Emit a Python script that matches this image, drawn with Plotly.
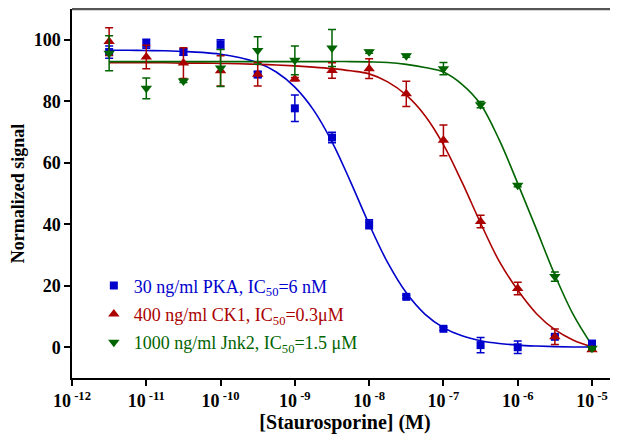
import plotly.graph_objects as go

# concentrations (log10 M) of the measured points
log_conc = [-11.5, -11.0, -10.5, -10.0, -9.5, -9.0, -8.5, -8.0,
            -7.5, -7.0, -6.5, -6.0, -5.5, -5.0]

pka_mean = [96.0, 98.7, 96.0, 98.5, 88.7, 77.7, 68.2, 40.0, 16.4, 6.0, 0.7, 0.0, 3.4, 1.2]
pka_err = [2.0, 1.5, 1.0, 1.5, 1.0, 4.3, 1.7, 1.5, 0.5, 0.5, 2.5, 2.0, 0.5, 0.5]

ck1_mean = [99.4, 94.4, 92.4, 89.9, 88.8, 87.2, 90.0, 90.6, 82.4, 67.3, 40.9, 19.1, 3.4, -0.8]
ck1_err = [4.5, 3.8, 5.0, 4.9, 3.8, 0.5, 2.5, 3.2, 4.1, 5.0, 2.0, 2.0, 2.5, 0.5]

jnk2_mean = [95.6, 84.2, 86.6, 90.8, 96.5, 93.3, 97.3, 96.1, 94.8, 90.6, 78.9, 52.7, 23.0, -0.3]
jnk2_err = [5.7, 3.4, 0.5, 6.0, 4.5, 4.7, 6.0, 0.5, 0.5, 2.0, 1.0, 0.5, 1.5, 0.5]

# fitted curves, every quarter decade
curve_log = [-11.5, -11.25, -11.0, -10.75, -10.5, -10.25, -10.0, -9.75, -9.5,
             -9.25, -9.0, -8.75, -8.5, -8.25, -8.0, -7.75, -7.5, -7.25, -7.0,
             -6.75, -6.5, -6.25, -6.0, -5.75, -5.5, -5.25, -5.0]
pka_fit = [96.6, 96.6, 96.5, 96.4, 96.2, 95.9, 95.3, 94.2, 92.5, 89.5, 84.6, 77.2,
           66.8, 53.8, 40.0, 27.5, 17.7, 10.8, 6.4, 3.7, 2.1, 1.2, 0.7, 0.4, 0.2, 0.1, 0.1]
ck1_fit = [92.5, 92.5, 92.5, 92.5, 92.4, 92.4, 92.3, 92.2, 92.0, 91.8, 91.5, 91.1,
           90.6, 89.9, 88.9, 86.3, 82.0, 75.4, 65.9, 53.7, 40.4, 28.0, 18.6, 11.0, 5.7, 2.3, 0.2]
jnk2_fit = [92.9, 92.9, 92.9, 92.9, 92.9, 92.9, 92.9, 92.9, 92.9, 92.9, 92.9, 92.9,
            92.9, 92.9, 92.8, 92.6, 92.0, 91.0, 89.5, 85.5, 79.0, 67.5, 53.3, 38.5, 23.5, 10.5, 0.6]

tick_logs = [-12, -11, -10, -9, -8, -7, -6, -5]
x_tick_text = ["<b>10<sup> -%d</sup></b>" % -t for t in tick_logs]
y_ticks = [0, 20, 40, 60, 80, 100]
y_tick_text = ["<b>%d</b>" % v for v in y_ticks]

labels = ["30 ng/ml PKA, IC<sub>50</sub>=6 nM",
          "400 ng/ml CK1, IC<sub>50</sub>=0.3\u03bcM",
          "1000 ng/ml Jnk2, IC<sub>50</sub>=1.5 \u03bcM"]
colors = ["#0000CC", "#AA0000", "#006400"]
symbols = ["square", "triangle-up", "triangle-down"]
sizes = [8, 10, 10]

series = [(pka_mean, pka_err, pka_fit), (ck1_mean, ck1_err, ck1_fit), (jnk2_mean, jnk2_err, jnk2_fit)]

conc = [10 ** v for v in log_conc]
curve_x = [10 ** v for v in curve_log]

fig = go.Figure()

# curves first so the markers sit on top
for (mean, err, fit), col in zip(series, colors):
    fig.add_trace(go.Scatter(x=curve_x, y=fit, mode="lines", showlegend=False,
                             line=dict(color=col, width=1.6, shape="spline"),
                             hoverinfo="skip"))

for i, ((mean, err, fit), col) in enumerate(zip(series, colors)):
    fig.add_trace(go.Scatter(
        x=conc, y=mean, mode="markers", name="<span style='color:%s'>%s</span>" % (col, labels[i]),
        legendgroup="g%d" % i,
        marker=dict(symbol=symbols[i], size=sizes[i], color=col),
        error_y=dict(type="data", array=err, visible=True, color=col, thickness=1.5, width=4),
    ))

# the page body has an 8px margin, so the figure is made 8px smaller
fig.update_layout(
    width=610, height=426,
    margin=dict(l=64, r=0, t=1, b=56),
    plot_bgcolor="white", paper_bgcolor="white",
    font=dict(family="Liberation Serif", color="black"),
    showlegend=True,
    legend=dict(x=0.04, y=0.3, xanchor="left", yanchor="top",
                font=dict(family="Liberation Serif", size=18),
                traceorder="grouped", tracegroupgap=2,
                bgcolor="rgba(0,0,0,0)"),
)

fig.update_xaxes(
    type="log", range=[-12, -4.65], automargin=False,
    tickvals=[10 ** t for t in tick_logs], ticktext=x_tick_text,
    showline=True, linecolor="black", linewidth=1.5,
    ticks="outside", ticklen=6, tickwidth=1.5, tickcolor="black",
    showgrid=False, zeroline=False,
    tickfont=dict(family="Liberation Serif", size=18, color="black"),
    title=dict(text="<b>[Staurosporine] (M)</b>", standoff=6,
               font=dict(family="Liberation Serif", size=20, color="black")),
)
fig.update_yaxes(
    range=[-10, 110], automargin=False,
    tickvals=y_ticks, ticktext=y_tick_text,
    showline=True, linecolor="black", linewidth=1.5,
    ticks="outside", ticklen=6, tickwidth=1.5, tickcolor="black",
    showgrid=False, zeroline=False,
    tickfont=dict(family="Liberation Serif", size=18, color="black"),
    title=dict(text="<b>Normalized signal</b>", standoff=10,
               font=dict(family="Liberation Serif", size=18, color="black")),
)

# grey frame line along the top
fig.add_shape(type="line", xref="paper", yref="paper", x0=0, x1=1, y0=1, y1=1,
              line=dict(color="#555555", width=2.5))

fig.write_html("out.html")
